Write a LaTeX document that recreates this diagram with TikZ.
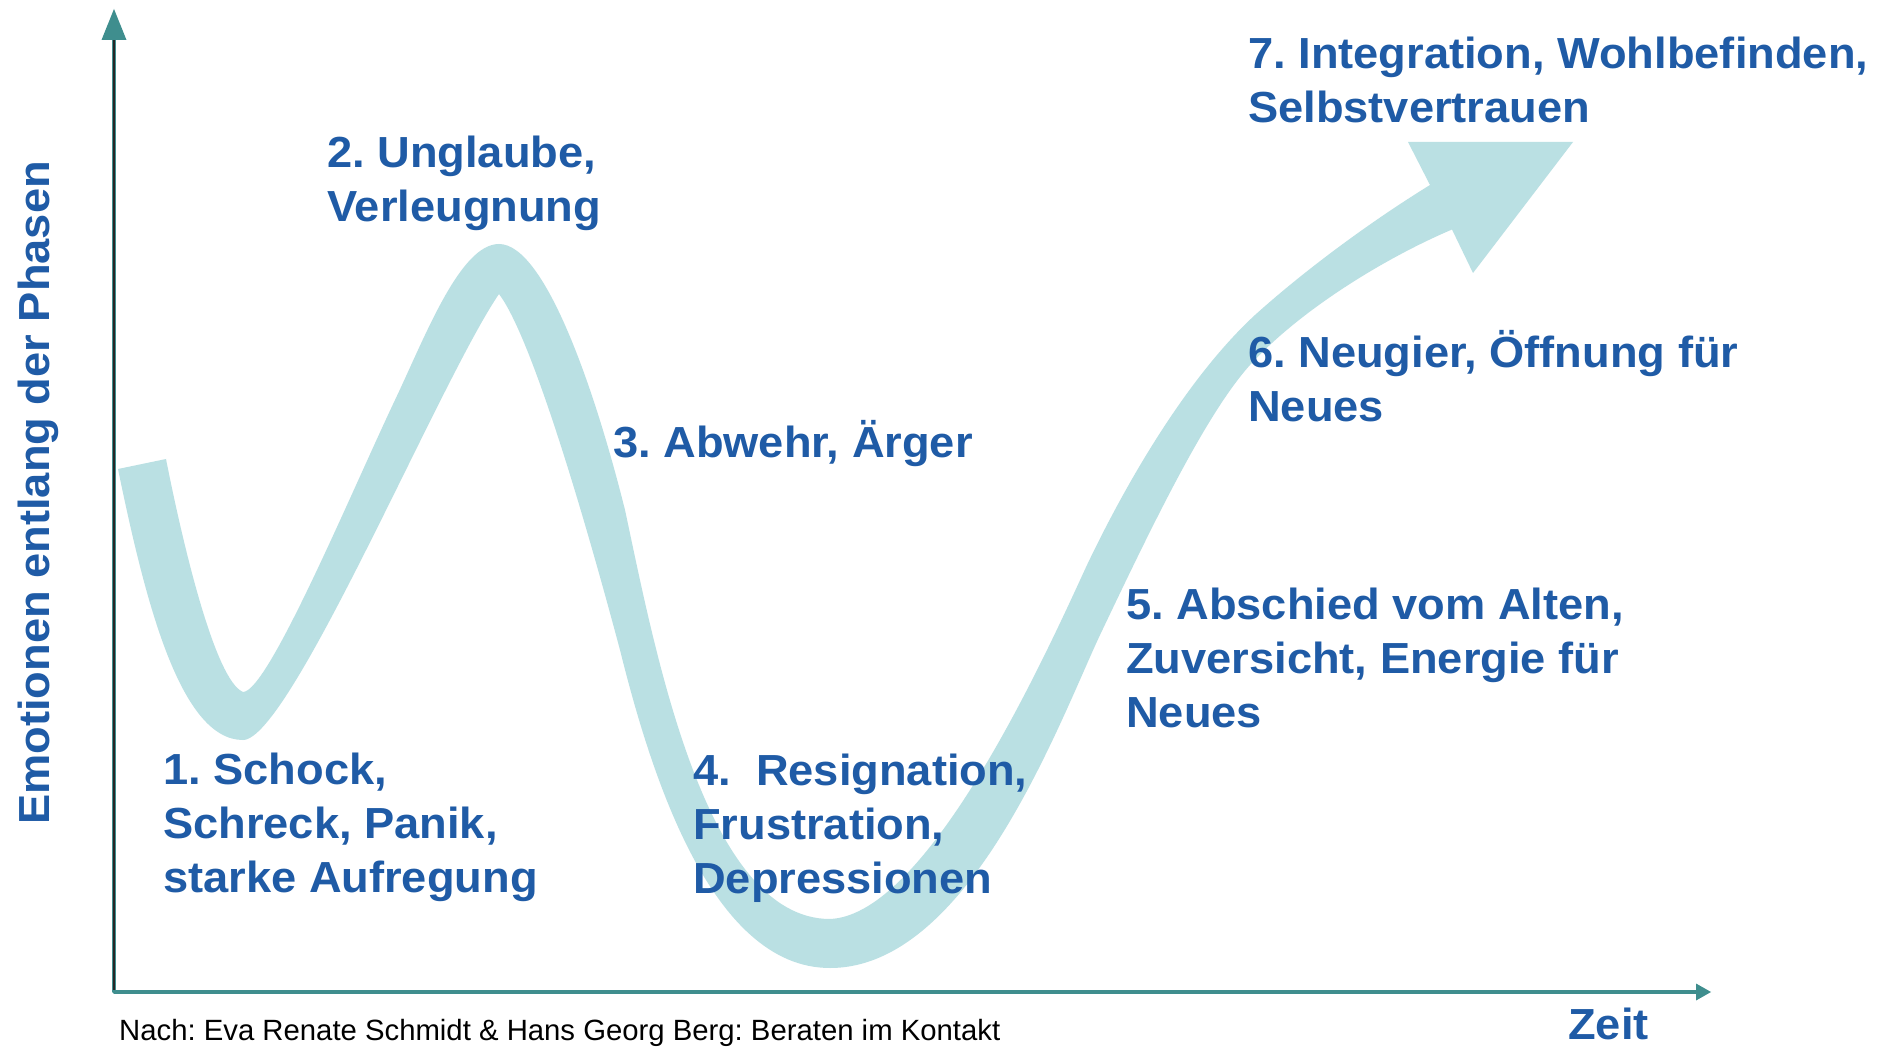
\documentclass[tikz,border=0pt]{standalone}
\usepackage{fontspec}
\setmainfont{Liberation Sans}
\newfontfamily\lblfont[FakeStretch=1.04]{Liberation Sans}
\frenchspacing
\definecolor{band}{HTML}{BAE0E3}
\definecolor{txtblue}{HTML}{1F5BA6}
\definecolor{axisteal}{HTML}{3F8E8E}
\tikzset{
  lbl/.style={anchor=base west, inner sep=0pt, text=txtblue,
    font=\frenchspacing\lblfont\bfseries\fontsize{43.5}{54}\selectfont},
  srcfont/.style={anchor=base west, inner sep=0pt, text=black,
    font=\frenchspacing\fontsize{29.3}{35}\selectfont},
  axisline/.style={draw=axisteal, line width=3.4pt},
}
\begin{document}
\begin{tikzpicture}[x=1pt,y=-1pt]
\useasboundingbox (0,0) rectangle (1883,1048);
\fill[white] (0,0) rectangle (1883,1048);

% curved band with arrow head
\fill[band] (118,469)
  .. controls (145,600) and (180,740) .. (243,740)
  .. controls (290,740) and (440,380) .. (499,294)
  .. controls (530,335) and (580,500) .. (620,650)
  .. controls (650,770) and (710,968) .. (830,968)
  .. controls (970,968) and (1060,720) .. (1100,635)
  .. controls (1150,530) and (1205,415) .. (1250,365)
  .. controls (1300,310) and (1385,258) .. (1452,229.5)
  -- (1473,273) -- (1573,142) -- (1408,142) -- (1430,185)
  .. controls (1370,222) and (1305,270) .. (1255,315)
  .. controls (1190,375) and (1130,475) .. (1087,565)
  .. controls (1050,645) and (930,915) .. (830,919)
  .. controls (705,919) and (655,650) .. (625,510)
  .. controls (595,390) and (545,244) .. (499,244)
  .. controls (460,244) and (425,337) .. (395,400)
  .. controls (350,495) and (268,692) .. (243,692)
  .. controls (215,680) and (183,545) .. (166,459)
  -- cycle;

% axes
\coordinate (O) at (114,992);
\coordinate (Ybase) at (114,40);
\coordinate (Ytip) at (114,9);
\coordinate (Xbase) at (1697,992);
\coordinate (Xtip) at (1711,992);
\draw[axisline, line join=round] (Ybase) -- (O) -- (Xbase);
\draw[black!85, line width=1.1pt] (Ybase) -- (114,990);
\fill[axisteal] (Ytip) -- (101.5,40) -- (126.5,40) -- cycle;
\fill[axisteal] (Xtip) -- (1696,983.5) -- (1696,1000.5) -- cycle;

% labels
\node[lbl] (p1) at (163,784) {\begin{tabular}[t]{@{}l@{}}1. Schock,\\Schreck, Panik,\\starke Aufregung\end{tabular}};
\node[lbl] (p2) at (327,168) {\begin{tabular}[t]{@{}l@{}}2. Unglaube,\\Verleugnung\end{tabular}};
\node[lbl] (p3) at (613,458) {3. Abwehr, Ärger};
\node[lbl] (p4) at (693,785) {\begin{tabular}[t]{@{}l@{}}4.\ \ Resignation,\\Frustration,\\Depressionen\end{tabular}};
\node[lbl] (p5) at (1126,619) {\begin{tabular}[t]{@{}l@{}}5. Abschied vom Alten,\\Zuversicht, Energie für\\Neues\end{tabular}};
\node[lbl] (p6) at (1248,368) {\begin{tabular}[t]{@{}l@{}}6. Neugier, Öffnung für\\Neues\end{tabular}};
\node[lbl] (p7) at (1248,69) {\begin{tabular}[t]{@{}l@{}}7. Integration, Wohlbefinden,\\Selbstvertrauen\end{tabular}};

\node[lbl, rotate=90] (ylab) at (49,825) {Emotionen entlang der Phasen};
\node[lbl] (xlab) at (1568,1039) {Zeit};
\node[srcfont] (src) at (119,1040) {Nach: Eva Renate Schmidt \& Hans Georg Berg: Beraten im Kontakt};
\end{tikzpicture}
\end{document}
